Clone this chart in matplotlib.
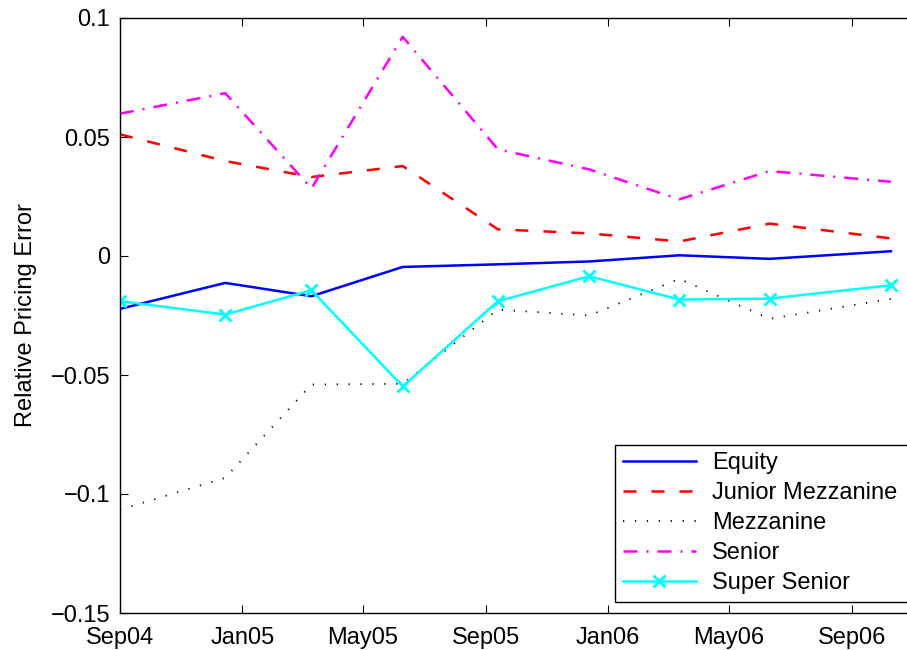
import numpy as np
import pandas as pd
import matplotlib
matplotlib.use("Agg")
import matplotlib.pyplot as plt
import matplotlib.dates as mdates
from matplotlib.ticker import FuncFormatter

# quarterly observation dates and relative pricing errors per tranche
datas = ["2004-09-01", "2004-12-15", "2005-03-11", "2005-06-10", "2005-09-13",
         "2005-12-13", "2006-03-13", "2006-06-11", "2006-10-10"]
equity = [-0.0222, -0.0113, -0.0169, -0.0046, -0.0035, -0.0023, 0.0003, -0.0012, 0.0020]
junior_mezz = [0.0511, 0.0399, 0.0332, 0.0378, 0.0112, 0.0095, 0.0061, 0.0136, 0.0074]
mezzanine = [-0.1066, -0.0932, -0.0540, -0.0537, -0.0225, -0.0250, -0.0096, -0.0264, -0.0180]
senior = [0.0598, 0.0684, 0.0284, 0.0921, 0.0448, 0.0364, 0.0238, 0.0357, 0.0312]
super_senior = [-0.0190, -0.0246, -0.0144, -0.0548, -0.0190, -0.0085, -0.0183, -0.0179, -0.0123]

x_ini, x_fim = "2004-09-01", "2006-11-10"
y_ticks = [-0.15, -0.1, -0.05, 0, 0.05, 0.1]

plt.rcParams["font.family"] = ["Liberation Sans", "DejaVu Sans"]
plt.rcParams["font.size"] = 17

X = pd.to_datetime(datas)

fig = plt.figure(figsize=(9.07, 6.5), dpi=100)
ax = fig.add_axes([120/907, 37/650, 802/907, 595/650])

lw = 1.8
ax.plot(X, equity, "-", color="#0000ff", lw=lw, label="Equity")
ax.plot(X, junior_mezz, color="#ff0000", lw=lw, dashes=(5.2, 6.0), label="Junior Mezzanine")
ax.plot(X, mezzanine, color="black", lw=1.3, dashes=(0.7, 5.9), label="Mezzanine")
ax.plot(X, senior, color="#ff00ff", lw=lw, dashes=(5.6, 3.6, 0.8, 3.6), label="Senior")
ax.plot(X, super_senior, "-", color="#00ffff", lw=lw, marker="x", ms=9, mew=2.0, label="Super Senior")

ax.set_xlim(pd.Timestamp(x_ini), pd.Timestamp(x_fim))
ax.set_ylim(-0.15, 0.1)
ax.set_yticks(y_ticks)
ax.yaxis.set_major_formatter(FuncFormatter(lambda v, p: ("%g" % round(v, 3)).replace("-", "\u2212")))
ax.xaxis.set_major_locator(mdates.MonthLocator(bymonth=[1, 5, 9]))
ax.xaxis.set_major_formatter(mdates.DateFormatter("%b%y"))

ax.tick_params(direction="in", top=True, right=True, length=5.8, width=0.8)
ax.tick_params(axis="x", pad=10)
ax.tick_params(axis="y", pad=7)
for s in ax.spines.values():
	s.set_linewidth(1.0)

ax.set_ylabel("Relative Pricing Error")
ax.yaxis.set_label_coords((37-120)/802, 0.5)

# legend box runs past the right edge of the figure, as in the cropped original
leg = ax.legend(loc="lower left", bbox_to_anchor=(615/907, 48/650, 400/907, 0.2),
                bbox_transform=fig.transFigure, mode="expand", fancybox=False,
                framealpha=1, edgecolor="black", borderpad=0.32, labelspacing=0.34,
                handlelength=3.1, handletextpad=0.68, borderaxespad=0)
leg.get_frame().set_linewidth(1.0)

fig.savefig("out.png", dpi=100)
